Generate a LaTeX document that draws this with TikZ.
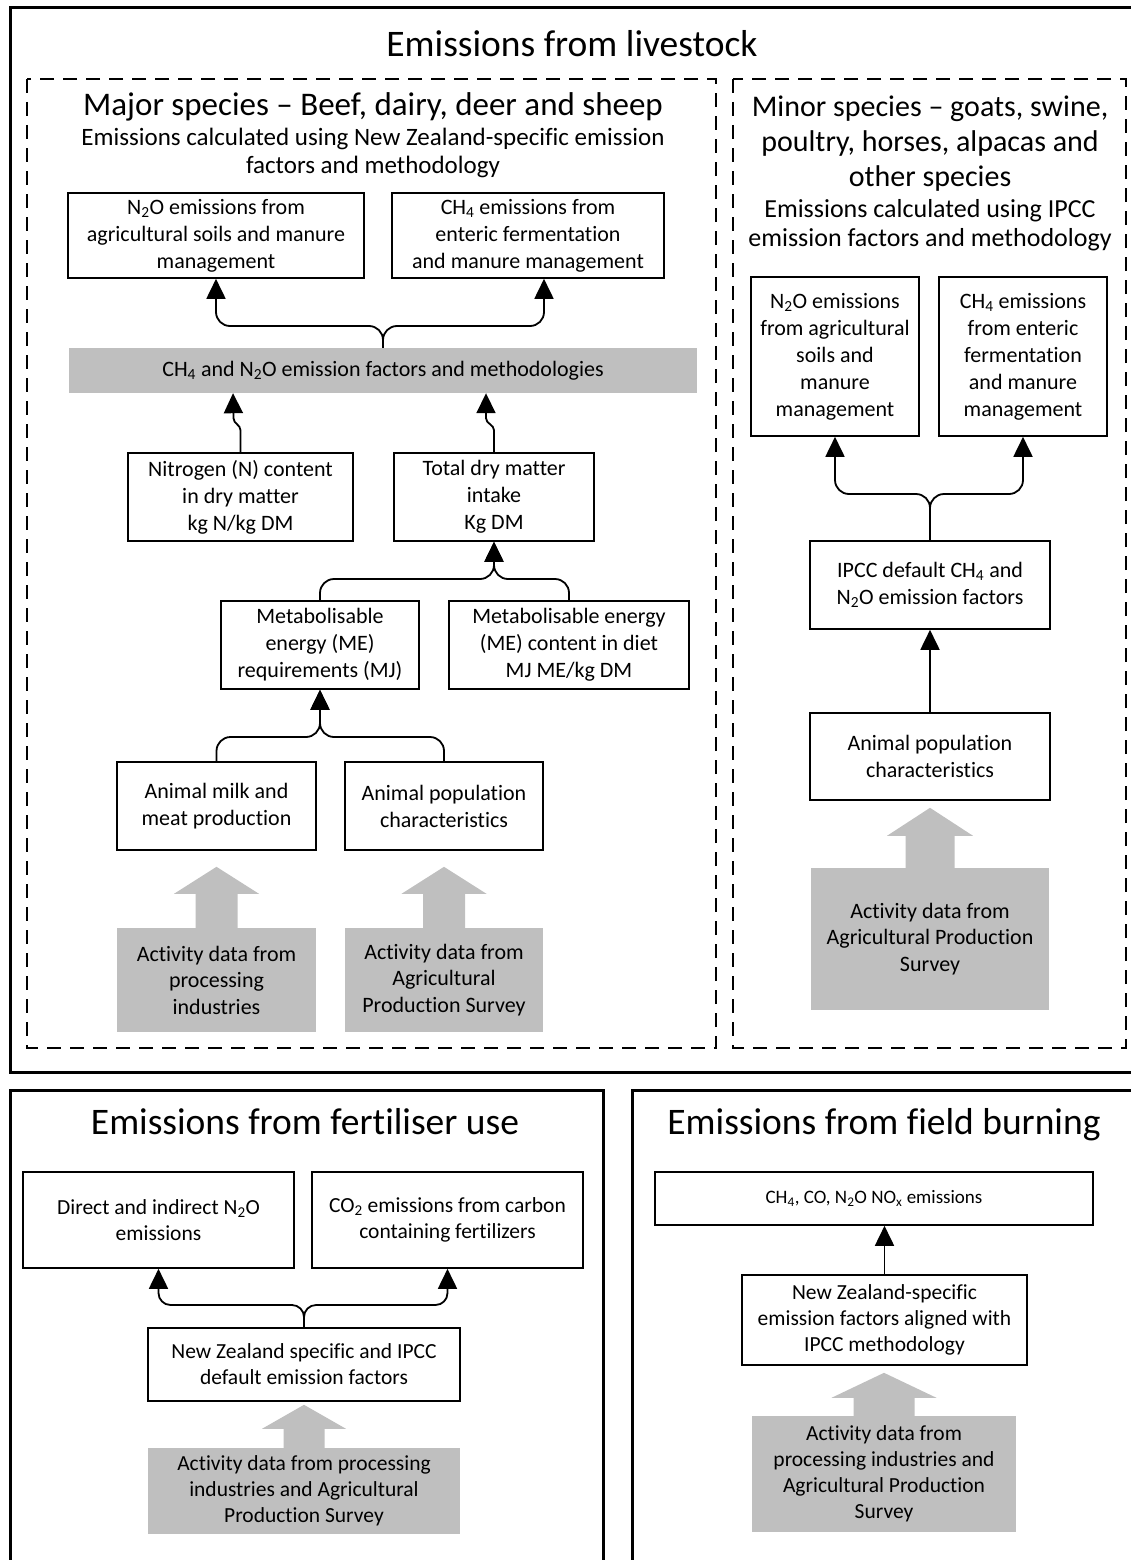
\documentclass[tikz,border=0pt]{standalone}
\usepackage{fontspec}
\setmainfont{Carlito}[Ligatures=NoCommon]
\usetikzlibrary{arrows.meta,calc}
\definecolor{graycol}{RGB}{191,191,191}
\newcommand\grayup[6]{%
  \path let \p1=(#1.north), \p2=(#2.south) in [fill=graycol]
    (\x1-#5pt,\y1) -- (\x1-#5pt,\y2-#3pt-#4pt) -- (\x1-#6pt,\y2-#3pt-#4pt) --
    (\x1,\y2-#3pt) -- (\x1+#6pt,\y2-#3pt-#4pt) -- (\x1+#5pt,\y2-#3pt-#4pt) --
    (\x1+#5pt,\y1) -- cycle;}
\begin{document}
\begin{tikzpicture}[x=1pt,y=-1pt,
  outer/.style={line width=3pt},
  dashbox/.style={line width=1.8pt, dash pattern=on 14pt off 9pt},
  box/.style={draw, line width=1.6pt, align=center, inner sep=2pt, font=\fontsize{22}{27}\selectfont},
  sbox/.style={box, font=\fontsize{21.5}{26}\selectfont},
  gbox/.style={fill=graycol, align=center, inner sep=2pt, font=\fontsize{22}{26.5}\selectfont},
  title/.style={inner sep=0pt, anchor=base, font=\fontsize{37.5}{43}\selectfont},
  sect/.style={inner sep=0pt, align=center, font=\fontsize{30}{35}\selectfont},
  subt/.style={inner sep=0pt, align=center, font=\fontsize{25}{28.5}\selectfont},
  conn/.style={line width=1.8pt, rounded corners=14pt, -{Triangle[length=20pt,width=19pt]}}]
\useasboundingbox (0,0) rectangle (1131,1560);
% frames
\draw[outer] (10,8) rectangle (1145,1072);
\draw[outer] (10,1090) rectangle (603,1575);
\draw[outer] (632,1090) rectangle (1145,1575);
\draw[dashbox] (27,79) rectangle (716,1048);
\draw[dashbox] (733,79) rectangle (1126,1048);
% titles
\node[title] (tLive) at (572,57) {Emissions from livestock};
\node[title] (tFert) at (305,1134) {Emissions from fertiliser use};
\node[title] (tBurn) at (884,1134) {Emissions from field burning};
\node[sect, font=\fontsize{33}{38}\selectfont] (tMaj) at (373,107) {Major species – Beef, dairy, deer and sheep};
\node[subt] (sMaj) at (373,153) {Emissions calculated using New Zealand-specific emission\\factors and methodology};
\node[sect] (tMin) at (930,144) {Minor species – goats, swine,\\poultry, horses, alpacas and\\other species};
\node[subt, font=\fontsize{26}{28.5}\selectfont] (sMin) at (930,225) {Emissions calculated using IPCC\\emission factors and methodology};
% major species
\node[box, minimum width=296pt, minimum height=85pt] (n2oM) at (216,235.5) {N\textsubscript{2}O emissions from\\agricultural soils and manure\\management};
\node[box, minimum width=272pt, minimum height=85pt] (ch4M) at (528,235.5) {CH\textsubscript{4} emissions from\\enteric fermentation\\and manure management};
\node[gbox, minimum width=628pt, minimum height=45pt] (fac) at (383,370.5) {CH\textsubscript{4} and N\textsubscript{2}O emission factors and methodologies};
\node[box, minimum width=225pt, minimum height=88pt] (nitro) at (240.5,497) {Nitrogen (N) content\\in dry matter\\kg N/kg DM};
\node[box, minimum width=200pt, minimum height=88pt] (totdm) at (494,497) {Total dry matter\\intake\\Kg DM};
\node[box, minimum width=198pt, minimum height=88pt] (metab) at (320,645) {Metabolisable\\energy (ME)\\requirements (MJ)};
\node[box, minimum width=240pt, minimum height=88pt] (mecont) at (569,645) {Metabolisable energy\\(ME) content in diet\\MJ ME/kg DM};
\node[box, minimum width=199pt, minimum height=88pt] (milk) at (216.5,806) {Animal milk and\\meat production};
\node[box, minimum width=198pt, minimum height=88pt] (popM) at (444,806) {Animal population\\characteristics};
\node[gbox, minimum width=199pt, minimum height=104pt] (actProc) at (216.5,980) {Activity data from\\processing\\industries};
\node[gbox, minimum width=198pt, minimum height=104pt] (actAPS) at (444,980) {Activity data from\\Agricultural\\Production Survey};
% minor species
\node[box, minimum width=168pt, minimum height=159pt] (n2om) at (835,356.5) {N\textsubscript{2}O emissions\\from agricultural\\soils and\\manure\\management};
\node[box, minimum width=168pt, minimum height=159pt] (ch4m) at (1023,356.5) {CH\textsubscript{4} emissions\\from enteric\\fermentation\\and manure\\management};
\node[box, minimum width=240pt, minimum height=88pt] (ipcc) at (930,585) {IPCC default CH\textsubscript{4} and\\N\textsubscript{2}O emission factors};
\node[box, minimum width=240pt, minimum height=87pt] (popm) at (930,756.5) {Animal population\\characteristics};
\node[gbox, minimum width=238pt, minimum height=142pt] (actm) at (930,939) {Activity data from\\Agricultural Production\\Survey};
% fertiliser
\node[sbox, minimum width=271pt, minimum height=96pt] (direct) at (158.5,1220) {Direct and indirect N\textsubscript{2}O\\emissions};
\node[sbox, minimum width=271pt, minimum height=96pt] (co2) at (447.5,1220) {CO\textsubscript{2} emissions from carbon\\containing fertilizers};
\node[sbox, minimum width=312pt, minimum height=73pt] (nzf) at (304,1364.5) {New Zealand specific and IPCC\\default emission factors};
\node[gbox, font=\fontsize{21.5}{26}\selectfont, minimum width=312pt, minimum height=86pt] (actf) at (304,1491) {Activity data from processing\\industries and Agricultural\\Production Survey};
% field burning
\node[sbox, font=\fontsize{19}{24}\selectfont, minimum width=438pt, minimum height=53pt] (outb) at (874,1198.5) {CH\textsubscript{4}, CO, N\textsubscript{2}O NO\textsubscript{x} emissions};
\node[sbox, minimum width=285pt, minimum height=90pt] (nzb) at (884.5,1320) {New Zealand-specific\\emission factors aligned with\\IPCC methodology};
\node[gbox, font=\fontsize{21.5}{26}\selectfont, minimum width=264pt, minimum height=116pt] (actb) at (884,1474) {Activity data from\\processing industries and\\Agricultural Production\\Survey};
% junctions
\coordinate (j1) at (fac.north |- 0,326);
\coordinate (j2) at (totdm.south |- 0,579);
\coordinate (j3) at (metab.south |- 0,737);
\coordinate (j4) at (ipcc.north |- 0,494);
\coordinate (j5) at (nzf.north |- 0,1305);
% connectors major
\draw[conn] (fac.north) -- (j1) -| (n2oM.south);
\draw[conn] (fac.north) -- (j1) -| ([xshift=16pt]ch4M.south);
\draw[conn, rounded corners=0pt] (nitro.north) -- ++(0,-22) to[out=90,in=-90] ++(-7,-12) -- (fac.south -| 233,0);
\draw[conn, rounded corners=0pt] (totdm.north) -- ++(0,-22) to[out=90,in=-90] ++(-8,-12) -- (fac.south -| 486,0);
\draw[conn] (metab.north) |- (j2) -- (totdm.south);
\draw[conn] (mecont.north) |- (j2) -- (totdm.south);
\draw[conn] (milk.north) |- (j3) -- (metab.south);
\draw[conn] (popM.north) |- (j3) -- (metab.south);
% connectors minor
\draw[conn] (ipcc.north) -- (j4) -| (n2om.south);
\draw[conn] (ipcc.north) -- (j4) -| (ch4m.south);
\draw[conn] (popm.north) -- (ipcc.south);
% connectors fertiliser / burning
\draw[conn, rounded corners=12pt] (nzf.north) -- (j5) -| (direct.south);
\draw[conn, rounded corners=12pt] (nzf.north) -- (j5) -| (co2.south);
\draw[conn] (nzb.north) -- (outb.south -| nzb.north);
% gray block arrows
\grayup{actProc}{milk}{16}{27}{21}{42.5}
\grayup{actAPS}{popM}{16}{27}{21}{42.5}
\grayup{actm}{popm}{7}{28}{24.5}{43}
\grayup{actf}{nzf}{3}{24}{20.5}{42}
\grayup{actb}{nzb}{7}{25}{30.5}{52.5}
\end{tikzpicture}
\end{document}
